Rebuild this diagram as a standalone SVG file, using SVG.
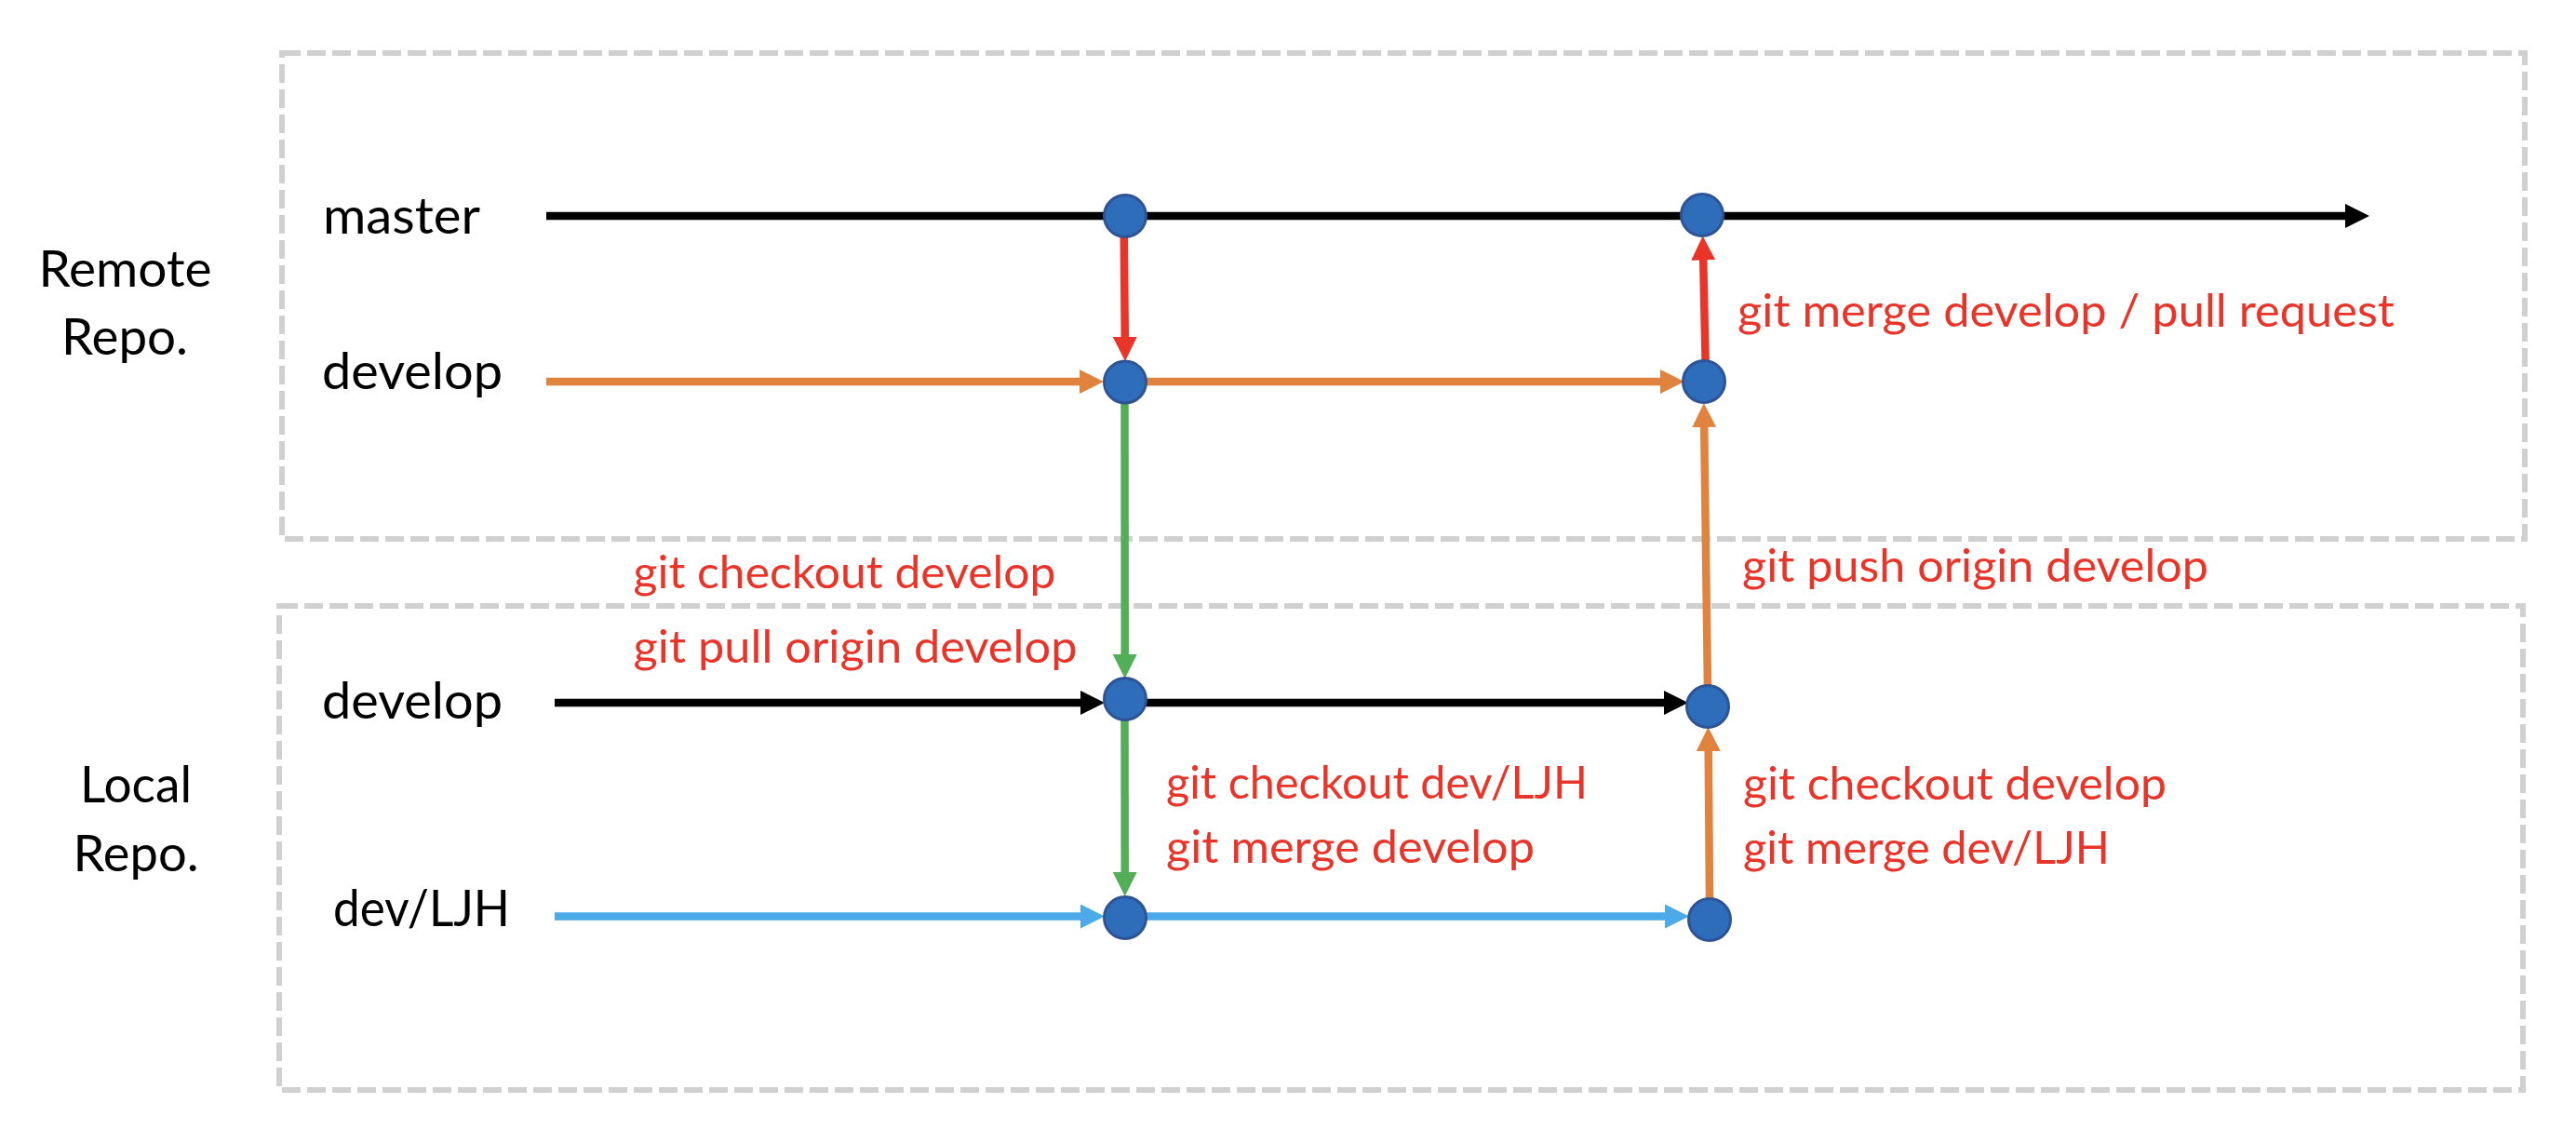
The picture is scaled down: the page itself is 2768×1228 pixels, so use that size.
<svg xmlns="http://www.w3.org/2000/svg" width="2768" height="1228" viewBox="0 0 2768 1228">
<style>
.box{fill:none;stroke:#D0D0D0;stroke-width:6;stroke-dasharray:20 7}
.lbl{font-family:Lato,"Liberation Sans",sans-serif;font-size:55px;fill:#000}
.cmd{font-family:Lato,"Liberation Sans",sans-serif;font-size:49px;fill:#E9342A}
.node{fill:#2E6DBA;stroke:#2F5496;stroke-width:3}
.ln{fill:none;stroke-width:8.5;stroke-linecap:butt}
.k{stroke:#000}
.o{stroke:#E0833F}
.r{stroke:#E9342A}
.g{stroke:#52AE57}
.b{stroke:#4DAAE8}
</style>
<defs>
<marker id="mk" markerUnits="userSpaceOnUse" markerWidth="27" markerHeight="26" refX="1" refY="13" orient="auto"><path d="M0,0 L26,13 L0,26 z" fill="#000"/></marker>
<marker id="mo" markerUnits="userSpaceOnUse" markerWidth="27" markerHeight="26" refX="1" refY="13" orient="auto"><path d="M0,0 L26,13 L0,26 z" fill="#E0833F"/></marker>
<marker id="mr" markerUnits="userSpaceOnUse" markerWidth="27" markerHeight="26" refX="1" refY="13" orient="auto"><path d="M0,0 L26,13 L0,26 z" fill="#E9342A"/></marker>
<marker id="mg" markerUnits="userSpaceOnUse" markerWidth="27" markerHeight="26" refX="1" refY="13" orient="auto"><path d="M0,0 L26,13 L0,26 z" fill="#52AE57"/></marker>
<marker id="mb" markerUnits="userSpaceOnUse" markerWidth="27" markerHeight="26" refX="1" refY="13" orient="auto"><path d="M0,0 L26,13 L0,26 z" fill="#4DAAE8"/></marker>
</defs>

<g id="remote-repo">
<rect class="box" x="303" y="57" width="2410" height="522"/>
<text class="lbl" x="41.5" y="308" textLength="186" lengthAdjust="spacingAndGlyphs">Remote</text>
<text class="lbl" x="66" y="381" textLength="136" lengthAdjust="spacingAndGlyphs">Repo.</text>
</g>
<g id="local-repo">
<rect class="box" x="300" y="651" width="2411" height="520"/>
<text class="lbl" x="86" y="862" textLength="120" lengthAdjust="spacingAndGlyphs">Local</text>
<text class="lbl" x="78.5" y="936" textLength="135" lengthAdjust="spacingAndGlyphs">Repo.</text>
</g>

<g id="branch-labels">
<text class="lbl" x="347" y="251" textLength="169" lengthAdjust="spacingAndGlyphs">master</text>
<text class="lbl" x="346" y="418" textLength="194" lengthAdjust="spacingAndGlyphs">develop</text>
<text class="lbl" x="346" y="772" textLength="194" lengthAdjust="spacingAndGlyphs">develop</text>
<text class="lbl" x="358" y="995" textLength="190" lengthAdjust="spacingAndGlyphs">dev/LJH</text>
</g>

<g id="connectors">
<line class="ln k" x1="587" y1="232" x2="2521" y2="232" marker-end="url(#mk)"/>
<line class="ln o" x1="587" y1="410" x2="1161" y2="410" marker-end="url(#mo)"/>
<line class="ln o" x1="1231" y1="410" x2="1785" y2="410" marker-end="url(#mo)"/>
<line class="ln k" x1="596" y1="755" x2="1162" y2="755" marker-end="url(#mk)"/>
<line class="ln k" x1="1231" y1="755" x2="1789" y2="755" marker-end="url(#mk)"/>
<line class="ln b" x1="596" y1="984.5" x2="1162" y2="984.5" marker-end="url(#mb)"/>
<line class="ln b" x1="1231" y1="984.5" x2="1790" y2="984.5" marker-end="url(#mb)"/>
<line class="ln r" x1="1207.7" y1="249" x2="1208.8" y2="363" marker-end="url(#mr)"/>
<line class="ln r" x1="1832.6" y1="387" x2="1830.2" y2="278.5" marker-end="url(#mr)"/>
<line class="ln g" x1="1208.5" y1="433" x2="1208.7" y2="704" marker-end="url(#mg)"/>
<line class="ln g" x1="1208.5" y1="773" x2="1208.7" y2="938" marker-end="url(#mg)"/>
<line class="ln o" x1="1837" y1="966" x2="1835.7" y2="806" marker-end="url(#mo)"/>
<line class="ln o" x1="1835" y1="741.6" x2="1831.2" y2="458" marker-end="url(#mo)"/>
</g>

<g id="node-m1"><ellipse class="node" cx="1209" cy="232" rx="22.5" ry="22.5"/></g>
<g id="node-m2"><ellipse class="node" cx="1829" cy="231" rx="22.5" ry="22.5"/></g>
<g id="node-rd1"><ellipse class="node" cx="1209" cy="410.5" rx="22.5" ry="22.5"/></g>
<g id="node-rd2"><ellipse class="node" cx="1831" cy="410" rx="22.5" ry="22.5"/></g>
<g id="node-ld1"><ellipse class="node" cx="1209" cy="751" rx="22.5" ry="22.5"/></g>
<g id="node-ld2"><ellipse class="node" cx="1835" cy="759" rx="22.5" ry="22.5"/></g>
<g id="node-lj1"><ellipse class="node" cx="1209" cy="986" rx="22.5" ry="22.5"/></g>
<g id="node-lj2"><ellipse class="node" cx="1837" cy="988" rx="22.5" ry="22.5"/></g>

<g id="commands">
<text class="cmd" x="1867" y="351" textLength="706" lengthAdjust="spacingAndGlyphs">git merge develop / pull request</text>
<text class="cmd" x="1872" y="625" textLength="501" lengthAdjust="spacingAndGlyphs">git push origin develop</text>
<text class="cmd" x="680.5" y="632" textLength="454" lengthAdjust="spacingAndGlyphs">git checkout develop</text>
<text class="cmd" x="680.5" y="712" textLength="477" lengthAdjust="spacingAndGlyphs">git pull origin develop</text>
<text class="cmd" x="1253" y="858" textLength="453" lengthAdjust="spacingAndGlyphs">git checkout dev/LJH</text>
<text class="cmd" x="1253" y="927" textLength="396" lengthAdjust="spacingAndGlyphs">git merge develop</text>
<text class="cmd" x="1873" y="859" textLength="455" lengthAdjust="spacingAndGlyphs">git checkout develop</text>
<text class="cmd" x="1873" y="928" textLength="394" lengthAdjust="spacingAndGlyphs">git merge dev/LJH</text>
</g>
</svg>
